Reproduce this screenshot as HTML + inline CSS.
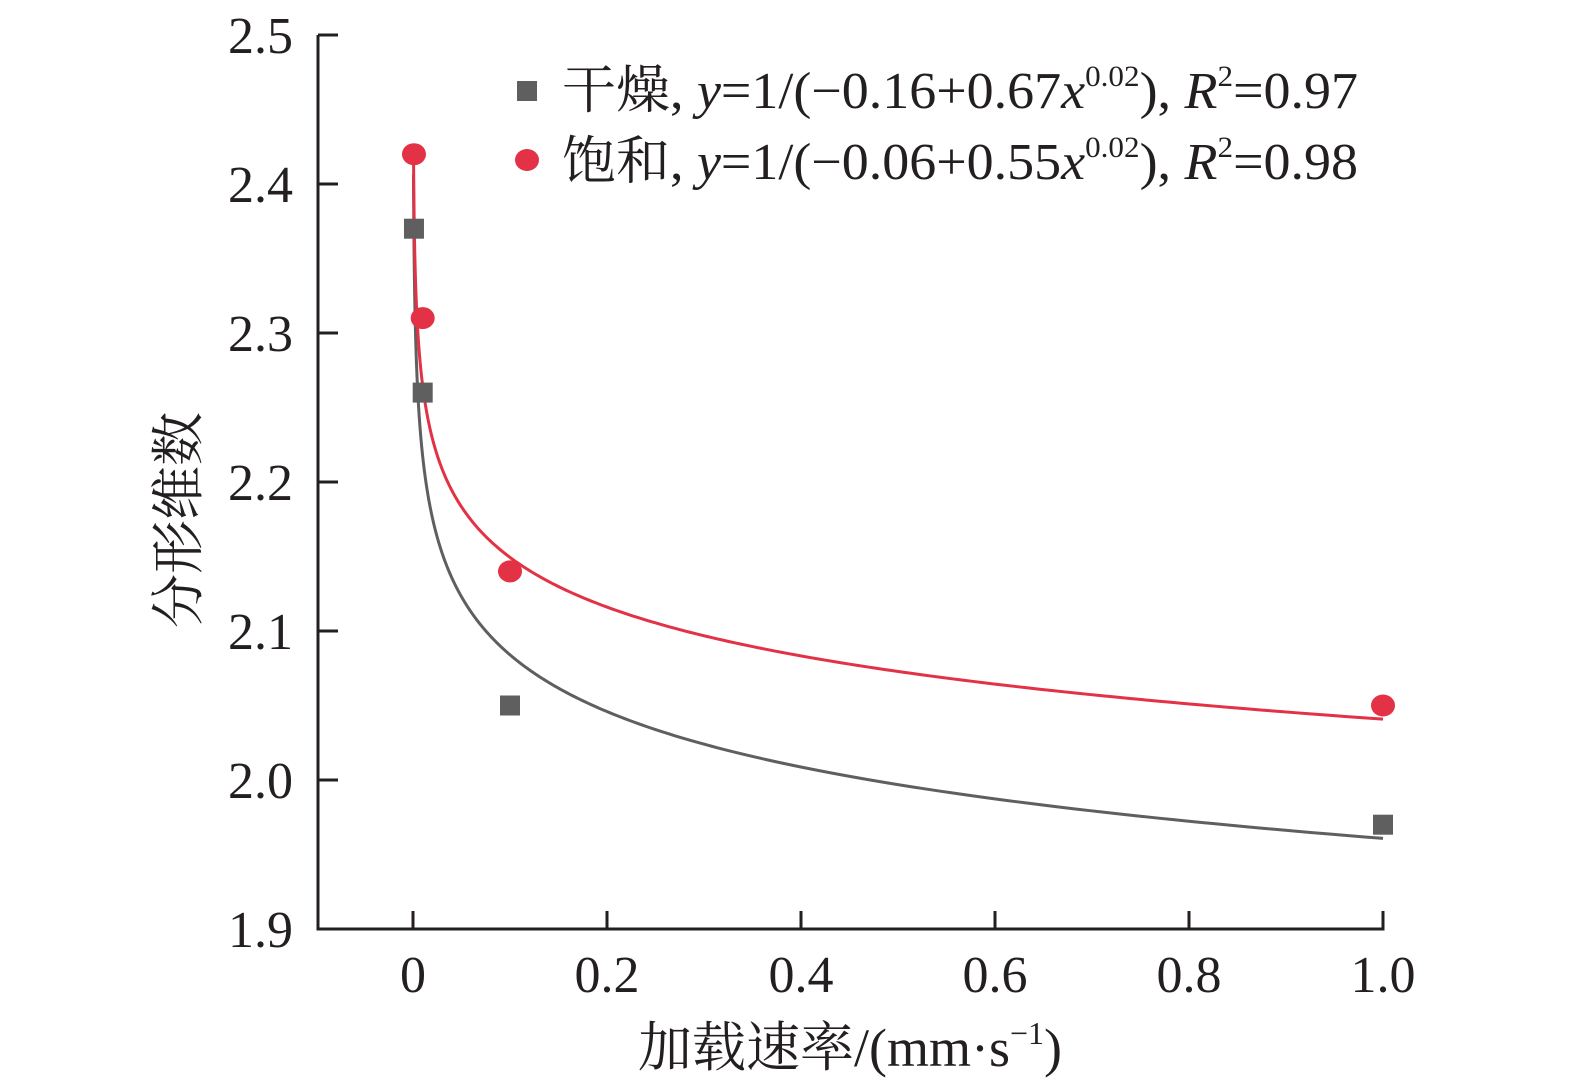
<!DOCTYPE html>
<html><head><meta charset="utf-8"><style>
body{margin:0;background:#fff}
svg{display:block}
text{font-family:"Liberation Serif","Noto Serif CJK SC",serif;fill:#231f20}
</style></head><body>
<svg width="1575" height="1091" viewBox="0 0 1575 1091">
<g id="axes"></g>
<g id="curves"></g>
<g id="marks"></g>
<g>
 <rect x="517" y="81" width="20" height="20" fill="#5f5f5f"/>
 <text x="562" y="108" font-size="52" textLength="796" lengthAdjust="spacingAndGlyphs">干燥, <tspan font-style="italic">y</tspan>=1/(−0.16+0.67<tspan font-style="italic">x</tspan><tspan font-size="30" dy="-22">0.02</tspan><tspan dy="22">), </tspan><tspan font-style="italic">R</tspan><tspan font-size="30" dy="-22">2</tspan><tspan dy="22">=0.97</tspan></text>
 <ellipse cx="527" cy="160" rx="12" ry="11" fill="#e33145"/>
 <text x="562" y="179" font-size="52" textLength="796" lengthAdjust="spacingAndGlyphs">饱和, <tspan font-style="italic">y</tspan>=1/(−0.06+0.55<tspan font-style="italic">x</tspan><tspan font-size="30" dy="-22">0.02</tspan><tspan dy="22">), </tspan><tspan font-style="italic">R</tspan><tspan font-size="30" dy="-22">2</tspan><tspan dy="22">=0.98</tspan></text>
</g>
<text x="850" y="1066" font-size="54" text-anchor="middle">加载速率/(mm·s<tspan font-size="32" dy="-22">−1</tspan><tspan dy="22">)</tspan></text>
<text transform="translate(197,520) rotate(-90)" font-size="54" text-anchor="middle">分形维数</text>
</svg>
<script>
const xTicks=[0,0.2,0.4,0.6,0.8,1.0];
const xTickLabels=["0","0.2","0.4","0.6","0.8","1.0"];
const yTicks=[1.9,2.0,2.1,2.2,2.3,2.4,2.5];
const yTickLabels=["1.9","2.0","2.1","2.2","2.3","2.4","2.5"];
const rates=[0.001,0.01,0.1,1];
const dryValues=[2.37,2.26,2.05,1.97];
const satValues=[2.42,2.31,2.14,2.05];
const dryFit=[-0.16,0.67,0.02];
const satFit=[-0.06,0.55,0.02];
const NS="http://www.w3.org/2000/svg";
const X=v=>413+v*970;
const Y=v=>929-(v-1.9)*1490;
function mk(tag,attrs,parent){const e=document.createElementNS(NS,tag);for(const k in attrs)e.setAttribute(k,attrs[k]);parent.appendChild(e);return e;}
const axes=document.getElementById('axes');
let l=mk('line',{x1:318,y1:Y(2.5),x2:318,y2:Y(1.9)+1.5,stroke:'#231f20','stroke-width':3},axes);


l=mk('line',{x1:316.5,y1:Y(1.9),x2:X(1)+1.5,y2:Y(1.9),stroke:'#231f20','stroke-width':3},axes);


yTicks.forEach((v,i)=>{
 const t=mk('line',{x1:318,y1:Y(v),x2:338,y2:Y(v),stroke:'#231f20','stroke-width':3},axes);
 
 
 const s=mk('text',{x:293,y:Y(v)+18,'font-size':52,'text-anchor':'end'},axes);s.textContent=yTickLabels[i];
 
 
});
xTicks.forEach((v,i)=>{
 const t=mk('line',{x1:X(v),y1:Y(1.9),x2:X(v),y2:Y(1.9)-18,stroke:'#231f20','stroke-width':3},axes);
 
 
 const s=mk('text',{x:X(v),y:992,'font-size':52,'text-anchor':'middle'},axes);s.textContent=xTickLabels[i];
 
 
});
const curves=document.getElementById('curves');
function curve(f,color,name){
 let d='';
 for(let i=0;i<=400;i++){const x=Math.pow(10,-3.3+3.3*i/400);const y=1/(f[0]+f[1]*Math.pow(x,f[2]));d+=(i?'L':'M')+X(x).toFixed(2)+','+Y(y).toFixed(2);}
 const p=mk('path',{d:d,fill:'none',stroke:color,'stroke-width':3},curves);
 
 
}
curve(dryFit,'#5f5f5f','dry-fit-curve');
curve(satFit,'#e33145','saturated-fit-curve');
const marks=document.getElementById('marks');
rates.forEach((r,i)=>{
 const q=mk('rect',{x:X(r)-10,y:Y(dryValues[i])-10,width:20,height:20,fill:'#5f5f5f'},marks);
 
 
 const c=mk('ellipse',{cx:X(r),cy:Y(satValues[i]),rx:12,ry:11,fill:'#e33145'},marks);
 
 
});
</script>
</body></html>
